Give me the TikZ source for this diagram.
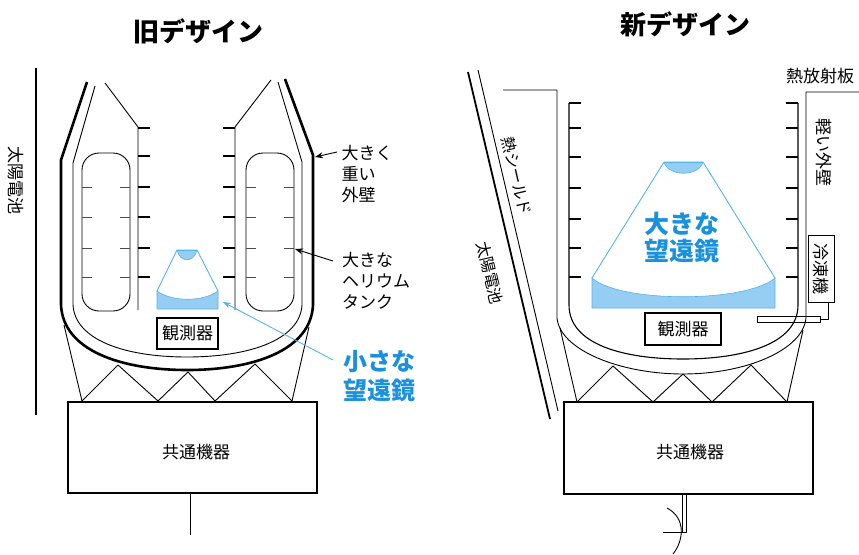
\documentclass[tikz,border=0pt]{standalone}
\usepackage{fontspec}
\setmainfont{Noto Sans CJK JP}
\usetikzlibrary{arrows.meta}
\definecolor{scopeblue}{RGB}{25,145,220}
\definecolor{scopeline}{RGB}{85,180,235}
\definecolor{mirrorfill}{RGB}{150,205,242}
\begin{document}
\begin{tikzpicture}[x=1pt,y=-1pt,
  wall/.style={line width=0.9pt, line join=round},
  heavy/.style={line width=2.6pt, line join=round},
  tick/.style={line width=1.1pt},
  tanktick/.style={line width=0.8pt, black!70},
  panel/.style={line width=1.4pt},
  title/.style={inner sep=0pt, font=\fontsize{26}{28}\selectfont\bfseries},
  lbl/.style={inner sep=0pt, align=left, font=\fontsize{17}{21}\selectfont},
  vlbl/.style={inner sep=0pt, rotate=-90, font=\fontsize{17}{20}\selectfont},
  slbl/.style={inner sep=0pt, rotate=-76.8, font=\fontsize{16}{20}\selectfont},
  bluelbl/.style={inner sep=0pt, align=center, text=scopeblue, font=\fontsize{24}{29}\selectfont\bfseries},
  unitbox/.style={draw, line width=1.1pt, inner sep=0pt, font=\fontsize{17}{20}\selectfont},
  scope/.style={draw=scopeline, line width=0.9pt},
  mirror/.style={fill=mirrorfill, draw=scopeline, line width=0.6pt},
  pointer/.style={line width=0.9pt, -{Stealth[length=8pt,width=6pt]}}
]
\useasboundingbox (0,0) rectangle (859,554);

% ---------------- old design ----------------
\node[title] (titleA) at (198,31) {旧デザイン};

% solar panel
\draw[panel] (36,68) -- (36,415);
\node[vlbl] (solarA) at (16,180) {太陽電池};

% heavy outer wall and inner skin
\draw[heavy] (87,82) -- (61,160) -- (61,305)
  .. controls (63,350) and (120,370) .. (187,370)
  .. controls (254,370) and (311,350) .. (313,305) -- (313,155) -- (285,79);
\draw[wall] (95,86) -- (73,163) -- (73,305)
  .. controls (75,340) and (125,357) .. (187,357)
  .. controls (249,357) and (300,340) .. (302,305) -- (302,162) -- (278,82);

% inner faces of the two pods, with radiator fins
\draw[wall] (105,83) -- (138,127) -- (138,310);
\draw[wall] (271,80) -- (235,127) -- (235,310);
\foreach \y in {128,156,187,217,248,277} {
  \draw[tick] (138,\y) -- (150,\y);
  \draw[tick] (223,\y) -- (235,\y);
}

% helium tanks
\draw[wall, rounded corners=17pt] (82,153) rectangle (130,311);
\draw[wall, rounded corners=17pt] (246,153) rectangle (294,311);
\foreach \y in {187,217,248,277} {
  \draw[tanktick] (82,\y) -- (92,\y);
  \draw[tanktick] (120,\y) -- (130,\y);
  \draw[tanktick] (246,\y) -- (256,\y);
  \draw[tanktick] (284,\y) -- (294,\y);
}

% small telescope
\draw[mirror] (177,250) .. controls (180,263) and (194,263) .. (197,250) -- cycle;
\draw[mirror] (157,291) .. controls (172,302) and (203,302) .. (218,291) -- (218,309) -- (157,309) -- cycle;
\draw[scope] (177,250) -- (197,250);
\draw[scope] (177,250) -- (157,291);
\draw[scope] (197,250) -- (218,291);
\coordinate (scopeA) at (223,302);

% instruments
\node[unitbox, minimum width=61pt, minimum height=31pt] (instA) at (187.5,333.5) {観測器};

% truss between cryostat and bus
\draw[wall] (64,325) -- (82,401);
\draw[wall] (309,327) -- (292,401);
\draw[wall] (82,401) -- (118,365) -- (158,401) -- (188,372) -- (215,401) -- (255,364) -- (292,401);

% spacecraft bus
\node[unitbox, minimum width=249pt, minimum height=91pt] (busA) at (192.5,447.5) {};
\node[inner sep=0pt, font=\fontsize{17}{20}\selectfont] (busAtext) at (196,452) {共通機器};
\draw[wall] (190,493) -- (190,535);

% labels
\node[lbl] (wallA) at (367,174) {大きく\\重い\\外壁};
\coordinate (wallAtip) at (315,157);
\draw[pointer] (337,152) -- (wallAtip);
\node[lbl] (tankA) at (376,281) {大きな\\ヘリウム\\タンク};
\coordinate (tankAtip) at (295,249);
\draw[pointer] (333,261) -- (tankAtip);
\node[bluelbl] (smallscope) at (379,376) {小さな\\望遠鏡};
\draw[pointer, draw=scopeline] (333,360) -- (scopeA);

% ---------------- new design ----------------
\node[title] (titleB) at (685,24) {新デザイン};

% solar panel and sun shield
\draw[panel, line width=1.8pt] (468,72) -- (550,419);
\draw[wall] (478,70) -- (558,411);
\node[slbl] (shieldB) at (517,176) {熱シールド};
\node[slbl] (solarB) at (490,273) {太陽電池};

% light outer wall and radiator
\draw[wall] (503,90) -- (557,90) -- (557,318)
  .. controls (560,350) and (620,374) .. (683,374)
  .. controls (746,374) and (803,350) .. (806,318) -- (806,92) -- (859,92);
\node[inner sep=0pt, font=\fontsize{17}{20}\selectfont] (radiator) at (820,76) {熱放射板};
\node[vlbl] (wallB) at (824,152) {軽い外壁};

% inner wall with fins
\draw[wall, line width=1.1pt] (569,103) -- (569,305)
  .. controls (569,345) and (625,359) .. (683,359)
  .. controls (741,359) and (798,345) .. (798,305) -- (798,103);
\foreach \y in {103,128,157,188,219,248,277} {
  \draw[tick] (569,\y) -- (581,\y);
  \draw[tick] (786,\y) -- (798,\y);
}

% large telescope
\draw[mirror] (664,162) .. controls (668,177) and (699,177) .. (703,162) -- cycle;
\draw[mirror] (592,278) .. controls (620,303) and (746,303) .. (775,278) -- (775,308) -- (592,308) -- cycle;
\draw[scope] (664,162) -- (703,162);
\draw[scope] (664,162) -- (592,278);
\draw[scope] (703,162) -- (775,278);
\node[bluelbl, font=\fontsize{25}{27}\selectfont\bfseries] (bigscope) at (682,238) {大きな\\望遠鏡};

% cryocooler and its heat bar
\node[unitbox, rotate=-90, minimum width=67pt, minimum height=26pt, line width=0.9pt] (cooler) at (821,268.5) {冷凍機};
\draw[wall] (757,316) rectangle (820,322);
\coordinate (coolout) at (828,302);
\draw[wall] (coolout) -- (828,319) -- (820,319);

% instruments
\node[unitbox, minimum width=76pt, minimum height=32pt] (instB) at (683,329) {観測器};

% truss
\draw[wall] (560,328) -- (577,402);
\draw[wall] (803,330) -- (787,402);
\draw[wall] (577,402) -- (613,366) -- (653,402) -- (683,374) -- (712,402) -- (751,365) -- (787,402);

% spacecraft bus
\node[unitbox, minimum width=249pt, minimum height=92pt] (busB) at (688.5,448) {};
\node[inner sep=0pt, font=\fontsize{17}{20}\selectfont] (busBtext) at (690,452) {共通機器};

% antenna
\draw[wall] (682,494) -- (682,532) -- (663,532);
\draw[wall] (686,494) -- (686,532) -- (682,532);
\draw[wall] (667,508) .. controls (686,518) and (684,540) .. (673,554);
\end{tikzpicture}
\end{document}
